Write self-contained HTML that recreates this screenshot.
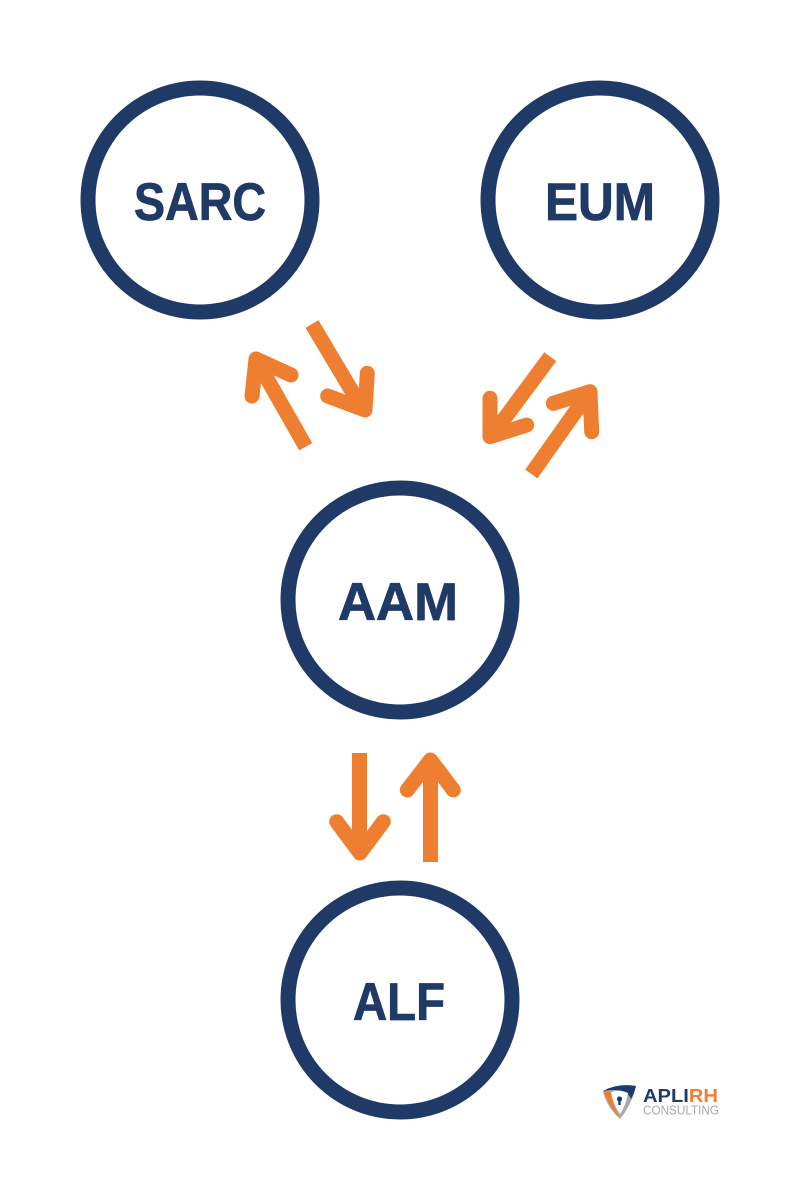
<!DOCTYPE html>
<html>
<head>
<meta charset="utf-8">
<style>
html,body{margin:0;padding:0;background:#fff;}
svg{display:block;}
</style>
</head>
<body>
<svg width="800" height="1200" viewBox="0 0 800 1200" xmlns="http://www.w3.org/2000/svg">
<rect width="800" height="1200" fill="#fff"/>
<g fill="none" stroke="#203a67" stroke-width="15">
<circle cx="200" cy="200" r="112"/>
<circle cx="600" cy="200" r="112"/>
<circle cx="400" cy="600" r="112"/>
<circle cx="400" cy="1000" r="112"/>
</g>
<g fill="#203a67" stroke="#203a67" stroke-width="0.8" font-family="'Liberation Sans', sans-serif" font-weight="bold" font-size="53" text-anchor="middle">
<text x="200" y="220" textLength="132" lengthAdjust="spacingAndGlyphs">SARC</text>
<text x="600" y="220" textLength="110" lengthAdjust="spacingAndGlyphs">EUM</text>
<text x="398" y="620" textLength="120" lengthAdjust="spacingAndGlyphs">AAM</text>
<text x="399" y="1020" textLength="92" lengthAdjust="spacingAndGlyphs">ALF</text>
</g>
<g fill="none" stroke="#ee7f31" stroke-width="15" stroke-linejoin="round">
<line x1="305.7" y1="446.7" x2="257" y2="361" stroke-linecap="butt"/>
<polyline points="252,396 256,359 291,375" stroke-linecap="round"/>
<line x1="312" y1="324" x2="362" y2="408" stroke-linecap="butt"/>
<polyline points="327.7,396 365,410 367.3,373.3" stroke-linecap="round"/>
<line x1="550.3" y1="356.7" x2="493" y2="434" stroke-linecap="butt"/>
<polyline points="490,398.3 490,436.7 526.7,425" stroke-linecap="round"/>
<line x1="531.3" y1="474" x2="588" y2="394" stroke-linecap="butt"/>
<polyline points="553.3,403.3 590,391.7 591.7,431.7" stroke-linecap="round"/>
<line x1="359.5" y1="753" x2="359.5" y2="850" stroke-linecap="butt"/>
<polyline points="336.7,821.7 360,853 383.3,821.7" stroke-linecap="round"/>
<line x1="430.5" y1="862" x2="430.5" y2="763" stroke-linecap="butt"/>
<polyline points="407.3,790 430.5,760 453.3,790" stroke-linecap="round"/>
</g>
<g>
<path d="M603,1091 Q618,1083 636,1086 Q632,1104 620,1119 Q606,1106 603,1091 Z" fill="#a7a9ac"/>
<path d="M603,1091 Q610,1108 620,1119 Q612,1104 611,1092 Z" fill="#ee7f31"/>
<path d="M603,1091 Q618,1083 636,1086 Q634,1094 631,1099 Q628,1091 616,1090 Q608,1090 603,1091 Z" fill="#203a67"/>
<path d="M611,1092 Q620,1089 628,1093 Q626,1106 620,1114 Q613,1104 611,1092 Z" fill="#fff"/>
<circle cx="619.5" cy="1099" r="2.6" fill="#203a67"/>
<rect x="618.3" y="1099" width="2.4" height="6" fill="#203a67"/>
<text x="643" y="1102" font-family="'Liberation Sans', sans-serif" font-weight="bold" font-size="18" textLength="75" lengthAdjust="spacingAndGlyphs" fill="#203a67">APLI<tspan fill="#ee7f31">RH</tspan></text>
<text x="643" y="1114.5" font-family="'Liberation Sans', sans-serif" font-size="13" textLength="76" lengthAdjust="spacingAndGlyphs" fill="#a7a9ac">CONSULTING</text>
</g>
</svg>
</body>
</html>
